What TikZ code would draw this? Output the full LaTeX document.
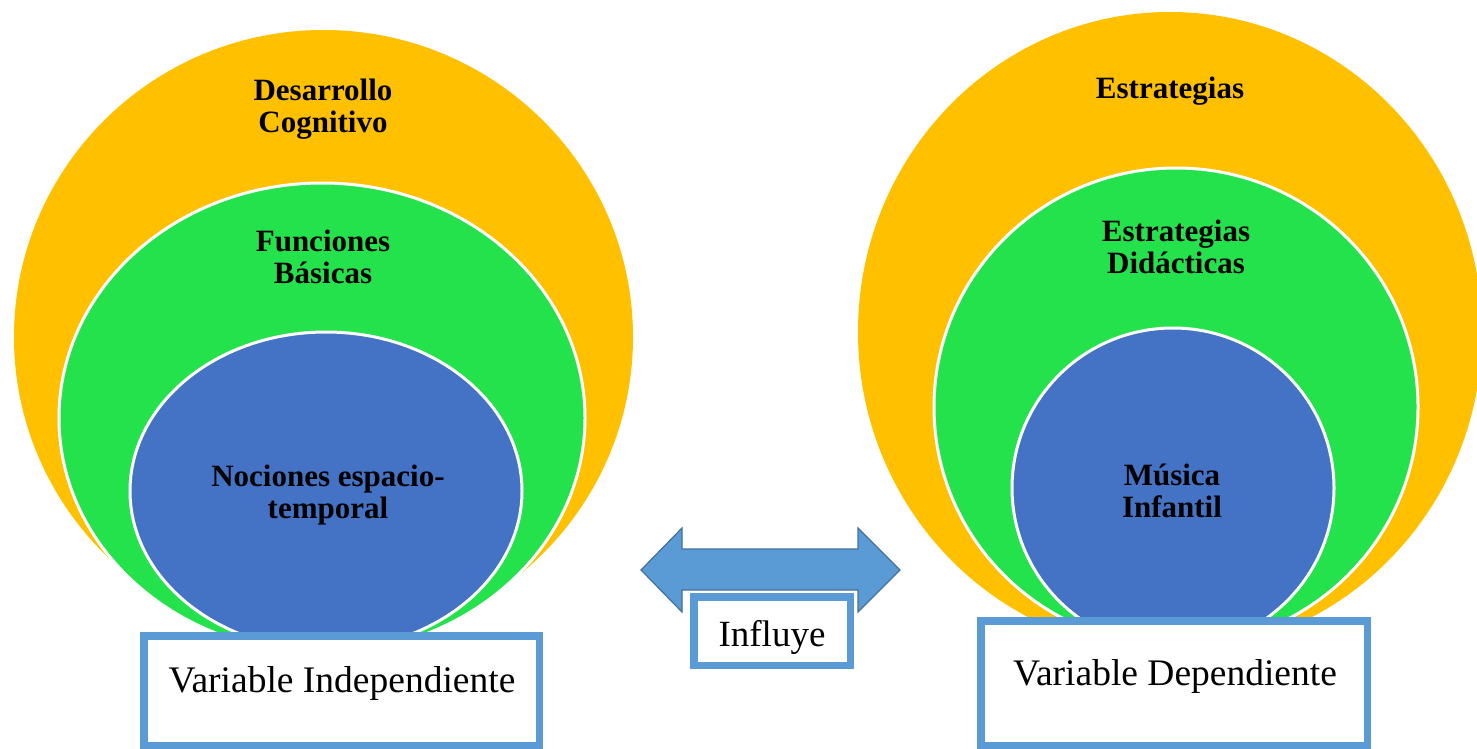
\documentclass[tikz,border=0pt]{standalone}
\usepackage{fontspec}
\setmainfont{Liberation Serif}
\usetikzlibrary{shapes.geometric}
\definecolor{orng}{HTML}{FFC000}
\definecolor{grn}{HTML}{24E24B}
\definecolor{blu}{HTML}{4472C4}
\definecolor{lblu}{HTML}{5B9BD5}
\definecolor{dblu}{HTML}{41719C}
\begin{document}
\begin{tikzpicture}[x=1pt,y=-1pt,
  ell/.style={ellipse, inner sep=0pt, outer sep=0pt},
  outerell/.style={ell, fill=orng},
  midell/.style={ell, fill=grn, draw=white, line width=3pt},
  innerell/.style={ell, fill=blu, draw=white, line width=3pt},
  lbl/.style={font=\fontsize{31}{32}\selectfont\bfseries, align=center, inner sep=0pt},
  varbox/.style={draw=lblu, line width=7.5pt, fill=white, inner sep=0pt},
  boxtext/.style={font=\fontsize{37.5}{40}\selectfont, inner sep=0pt}]
\useasboundingbox (0,0) rectangle (1477,749);
\fill[white] (0,0) rectangle (1477,749);

% left nested ellipses
\node[outerell, minimum width=619pt, minimum height=614pt] (LO) at (323.5,337) {};
\node[midell, minimum width=526pt, minimum height=470pt] (LG) at (322,418) {};
\node[innerell, minimum width=392pt, minimum height=318pt] (LB) at (326,491) {};
\node[lbl] (tLO) at (323,109) {Desarrollo\\Cognitivo};
\node[lbl] (tLG) at (323,257) {Funciones\\Básicas};
\node[lbl] (tLB) at (328,495) {Nociones espacio-\\temporal};

% right nested ellipses
\node[outerell, minimum width=624pt, minimum height=640pt] (RO) at (1170,332) {};
\node[midell, minimum width=484pt, minimum height=478pt] (RG) at (1176,407) {};
\node[innerell, minimum width=322pt, minimum height=320pt] (RB) at (1173,488) {};
\node[lbl] (tRO) at (1170,91) {Estrategias};
\node[lbl] (tRG) at (1176,247) {Estrategias\\Didácticas};
\node[lbl] (tRB) at (1172,491) {Música\\Infantil};

% double arrow
\draw[fill=lblu, draw=dblu, line width=1.2pt, line join=miter]
  (641,570) -- (682,528) -- (682,549) -- (858,549) -- (858,528) -- (900,570)
  -- (858,612) -- (858,590) -- (682,590) -- (682,612) -- cycle;

% boxes
\node[varbox, minimum width=395.5pt, minimum height=109.5pt] (BI) at (341.5,690.5) {};
\node[boxtext] (tBI) at (342,683) {Variable Independiente};
\node[varbox, minimum width=386.5pt, minimum height=124.5pt] (BD) at (1174,683) {};
\node[boxtext] (tBD) at (1175,676) {Variable Dependiente};
\node[varbox, minimum width=156.5pt, minimum height=68.5pt] (BF) at (772,631) {};
\node[font=\fontsize{37}{40}\selectfont, inner sep=0pt] (tBF) at (772,637) {Influye};
\end{tikzpicture}
\end{document}
